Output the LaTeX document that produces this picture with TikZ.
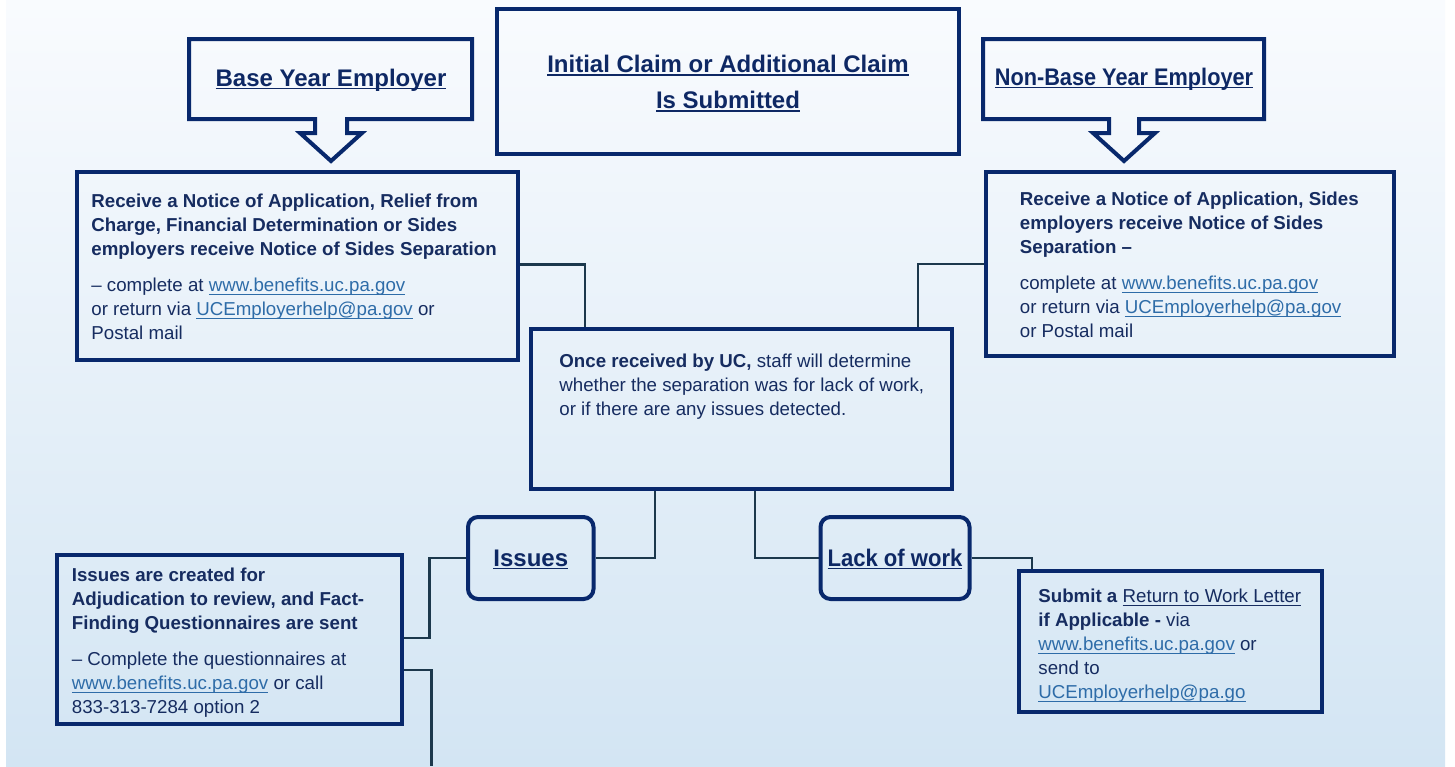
\documentclass[tikz,border=0pt]{standalone}
\usepackage{fontspec}
\setmainfont{Liberation Sans}
\newfontfamily\condfont[FakeStretch=0.92]{Liberation Sans}
\newfontfamily\narrowfont[FakeStretch=0.905]{Liberation Sans}
\usetikzlibrary{calc,fit}
\newcommand{\ul}[1]{\setbox0\hbox{#1}\rlap{\rule[-1.4pt]{\wd0}{0.6pt}}\box0}
\definecolor{boxc}{RGB}{8,40,108}
\definecolor{titc}{RGB}{14,40,100}
\definecolor{txtc}{RGB}{22,44,96}
\definecolor{lnkc}{RGB}{46,108,168}
\definecolor{conc}{RGB}{28,56,76}
\definecolor{bgtop}{RGB}{249,251,254}
\definecolor{bgbot}{RGB}{211,229,243}
\newcommand{\lnk}[1]{{\color{lnkc}\ul{#1}}}
\pgfdeclarelayer{bg}
\pgfsetlayers{bg,main}
\begin{document}
\begin{tikzpicture}[x=0.5pt,y=-0.5pt,
  frame/.style={draw=boxc,line width=2pt,inner sep=0pt},
  rframe/.style={frame,rounded corners=5pt},
  conn/.style={draw=conc,line width=1.2pt},
  callout/.style={draw=boxc,line width=2pt,line join=miter},
  titletext/.style={text=titc,font=\fontsize{12}{18}\selectfont\bfseries,inner sep=0pt},
  condtitle/.style={text=titc,font=\fontsize{12}{18}\selectfont\condfont\bfseries,inner sep=0pt},
  narrowtitle/.style={text=titc,font=\fontsize{12}{18}\selectfont\narrowfont\bfseries,inner sep=0pt},
  bodytext/.style={text=txtc,font=\fontsize{9.35}{12}\selectfont,align=left,inner sep=0pt,anchor=north west}]
\useasboundingbox (0,0) rectangle (1455,766);

% callouts
\draw[callout] (189,39) -- (472,39) -- (472,119) -- (347,119) -- (347,133) -- (362,133)
  -- (331,161) -- (300,133) -- (315,133) -- (315,119) -- (189,119) -- cycle;
\draw[callout] (983,39) -- (1264,39) -- (1264,119) -- (1139,119) -- (1139,133) -- (1155,133)
  -- (1124,161) -- (1093,133) -- (1109,133) -- (1109,119) -- (983,119) -- cycle;
\node[titletext,anchor=base] (byet) at (331,86) {\ul{Base Year Employer}};
\node[narrowtitle,anchor=base] (nbyet) at (1124,85) {\ul{Non-Base Year Employer}};

% boxes
\node[frame,fit={(497,9) (959,154)}] (claim) {};
\node[titletext,align=center,anchor=north] (claimt) at (728,55)
  {\ul{Initial Claim or Additional Claim}\\\ul{Is Submitted}};

\node[frame,fit={(76.5,172) (517.5,360)}] (bye) {};
\node[bodytext] (byetx) at (91,194)
  {\textbf{Receive a Notice of Application, Relief from}\\
   \textbf{Charge, Financial Determination or Sides}\\
   \textbf{employers receive Notice of Sides Separation}\\[6pt]
   \textendash{} complete at \lnk{www.benefits.uc.pa.gov}\\
   or return via \lnk{UCEmployerhelp@pa.gov} or\\
   Postal mail};

\node[frame,fit={(986,172) (1394,356)}] (nbye) {};
\node[bodytext] (nbyetx) at (1019.5,192)
  {\textbf{Receive a Notice of Application, Sides}\\
   \textbf{employers receive Notice of Sides}\\
   \textbf{Separation \textendash}\\[6pt]
   complete at \lnk{www.benefits.uc.pa.gov}\\
   or return via \lnk{UCEmployerhelp@pa.gov}\\
   or Postal mail};

\node[frame,fit={(531,329) (952,489)}] (uc) {};
\node[bodytext] (uctx) at (559,354)
  {\textbf{Once received by UC,} staff will determine\\
   whether the separation was for lack of work,\\
   or if there are any issues detected.};

\node[rframe,fit={(468,517) (593.5,599)}] (issues) {};
\node[titletext,anchor=base] (isst) at (530.75,566) {\ul{Issues}};

\node[rframe,fit={(820.5,517) (969.5,599)}] (lack) {};
\node[condtitle,anchor=base] (lackt) at (895,566) {\ul{Lack of work}};

\node[frame,fit={(57,555) (401.5,724)}] (adj) {};
\node[bodytext] (adjtx) at (71.5,568)
  {\textbf{Issues are created for}\\
   \textbf{Adjudication to review, and Fact-}\\
   \textbf{Finding Questionnaires are sent}\\[6pt]
   \textendash{} Complete the questionnaires at\\
   \lnk{www.benefits.uc.pa.gov} or call\\
   833-313-7284 option 2};

\node[frame,fit={(1019,571) (1321.5,712)}] (rtw) {};
\node[bodytext] (rtwtx) at (1038,589)
  {\textbf{Submit a} \ul{Return to Work Letter}\\
   \textbf{if Applicable -} via\\
   \lnk{www.benefits.uc.pa.gov} or\\
   send to\\
   \lnk{UCEmployerhelp@pa.go}};

\coordinate (adjend) at (431.5,766);

\begin{pgfonlayer}{bg}
  \fill[white] (0,0) rectangle (1455,766);
  \shade[top color=bgtop,bottom color=bgbot] (6,0) rectangle (1445,766);
  \draw[conn] ($(bye.north east)+(0,94.5)$) -| ($(uc.north west)+(56,0)$);
  \draw[conn] ($(nbye.north west)+(0,94)$) -| ($(uc.north east)+(-36,0)$);
  \draw[conn] ($(uc.south west)+(126,0)$) |- (issues.east);
  \draw[conn] ($(uc.south west)+(226,0)$) |- (lack.west);
  \draw[conn] (lack.east) -| ($(rtw.north west)+(15,0)$);
  \draw[conn] (issues.west) -- ++(-36.5,0) |- ($(adj.north east)+(0,85)$);
  \draw[conn] ($(adj.north east)+(0,117)$) -| (adjend);
\end{pgfonlayer}
\end{tikzpicture}
\end{document}
